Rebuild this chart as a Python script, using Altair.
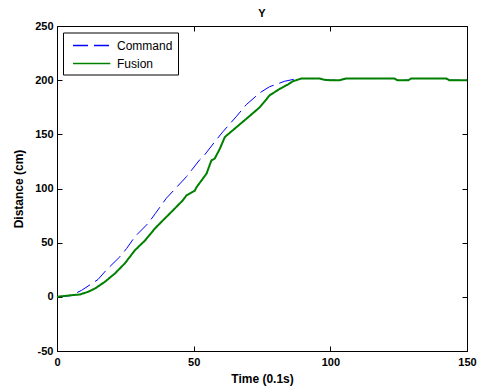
import altair as alt
import pandas as pd

# ---- data ----
cmd_t = [0, 5, 9, 15, 18, 23, 25.5, 28.5, 33.4, 36, 40, 47.4, 52.2, 54, 58.3, 60.8, 65.7, 69.3,
         74.2, 77.8, 83.3, 87, 89.4, 96, 97.5, 99.7, 103.4, 105.8, 123.5, 124.5, 128.6, 129.5,
         142.4, 143.5, 150]
cmd_d = [0, 1, 6, 16, 24.6, 37, 44.7, 55.5, 68, 77, 91, 111, 126.5, 131, 145, 152.7, 166.7, 177.5,
         188.3, 194, 199, 201, 201.5, 201.5, 200.5, 200, 200, 201.5, 201.5, 200, 200, 201.5,
         201.5, 200, 200]

fus_t = [0, 4, 8.4, 11.4, 13.9, 17.5, 21.2, 24.8, 28.5, 32.2, 35.8, 38.8, 42.5, 46, 47.4, 50.4,
         51, 54.7, 56.5, 57.7, 59.6, 61.4, 65.7, 69.3, 74.2, 77.8, 81.5, 84.5, 86.3, 89.4, 96,
         97.5, 99.7, 103.4, 105.8, 123.5, 124.5, 128.6, 129.5, 142.4, 143.5, 150]
fus_d = [0, 1.2, 2.2, 4.6, 7.7, 13.8, 21.6, 30.8, 43, 52, 63, 70.7, 80, 89, 93.7, 98,
         101, 113.7, 126, 127.6, 136.8, 147.5, 156.7, 164.4, 175, 186, 192, 196, 199, 201.5, 201.5,
         200.5, 200, 200, 201.5, 201.5, 200, 200, 201.5, 201.5, 200, 200]

series_names = ["Command", "Fusion"]
series_colors = ["#0000ff", "#008000"]
series_dash = [[15, 6], [1, 0]]
x_ticks = [0, 50, 100, 150]
y_ticks = [-50, 0, 50, 100, 150, 200, 250]

cmd_df = pd.DataFrame({"t": cmd_t, "d": cmd_d, "series": "Command"})
fus_df = pd.DataFrame({"t": fus_t, "d": fus_d, "series": "Fusion"})

FONT = "Liberation Sans"

xs = alt.Scale(domain=[0, 150], nice=False, zero=False)
ys = alt.Scale(domain=[-50, 250], nice=False, zero=False)

color = alt.Color("series:N", scale=alt.Scale(domain=series_names, range=series_colors),
                  legend=alt.Legend(title=None))
dash = alt.StrokeDash("series:N", scale=alt.Scale(domain=series_names, range=series_dash),
                      legend=alt.Legend(title=None))

tick_common = dict(offset=-5, tickSize=5, domain=False, grid=False, labelFlush=False,
                   labelExpr="'' + datum.value")

cmd = alt.Chart(cmd_df).mark_line(strokeWidth=1).encode(
    x=alt.X("t:Q", scale=xs, axis=alt.Axis(orient="bottom", values=x_ticks, title="Time (0.1s)",
                                            labelPadding=5, titlePadding=6, **tick_common)),
    y=alt.Y("d:Q", scale=ys, axis=alt.Axis(orient="left", values=y_ticks, title="Distance (cm)",
                                            labelPadding=4, titlePadding=9, **tick_common)),
    color=color,
    strokeDash=dash,
)

fus = alt.Chart(fus_df).mark_line(strokeWidth=2).encode(
    x=alt.X("t:Q", scale=xs, axis=alt.Axis(orient="top", values=x_ticks, title=None,
                                            labels=False, **tick_common)),
    y=alt.Y("d:Q", scale=ys, axis=alt.Axis(orient="right", values=y_ticks, title=None,
                                            labels=False, **tick_common)),
    color=color,
    strokeDash=dash,
)

chart = alt.layer(cmd, fus).resolve_axis(x="independent", y="independent").properties(
    width=410, height=325,
    title=alt.TitleParams("Y", fontSize=11, fontWeight="bold", font=FONT, offset=1,
                          anchor="middle", color="black"),
    autosize=alt.AutoSizeParams(type="none"),
    padding={"left": 57, "top": 26, "right": 10, "bottom": 36},
    background="white",
).configure_view(
    stroke="black", strokeWidth=1
).configure_axis(
    labelFont=FONT, labelFontSize=11, labelFontWeight="bold", labelColor="black",
    titleFont=FONT, titleFontSize=12, titleFontWeight="bold", titleColor="black",
    tickColor="black", tickWidth=1,
).configure_legend(
    orient="none", legendX=6, legendY=6.5,
    symbolType="M-0.43,0H4.9", symbolSize=196, symbolStrokeWidth=1.5,
    labelFont=FONT, labelFontSize=12, labelColor="black",
    strokeColor="black", fillColor="white", padding=5, rowPadding=4, labelOffset=33,
    cornerRadius=0,
)

chart.save("out.html", embed_options={"renderer": "svg", "actions": False})
